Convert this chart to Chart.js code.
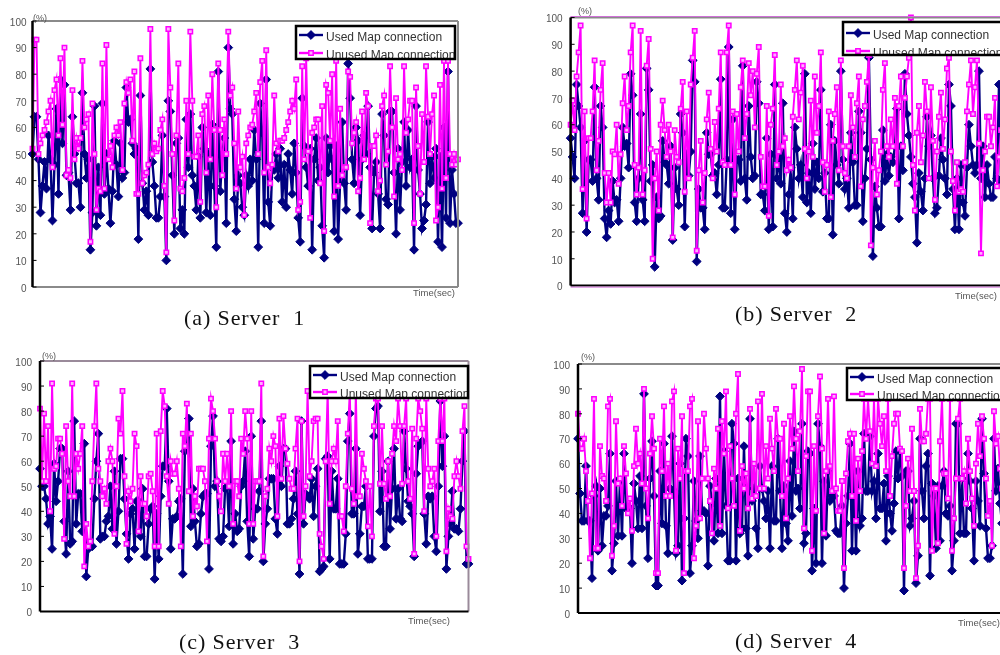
<!DOCTYPE html>
<html>
<head>
<meta charset="utf-8">
<title>Map connection per server</title>
<script src="https://cdn.jsdelivr.net/npm/chart.js@4/dist/chart.umd.js"></script>
<style>
    html, body { margin: 0; padding: 0; background: #fff; width: 1000px; height: 655px; overflow: hidden; }
    canvas { position: absolute; filter: blur(0.3px); }
    .caption { position: absolute; font-family: "Liberation Serif", serif; font-size: 22px; letter-spacing: 0.9px; color: #111; white-space: pre; line-height: 24px; }
</style>
</head>
<body>
<canvas id="server1"></canvas>
<canvas id="server2"></canvas>
<canvas id="server3"></canvas>
<canvas id="server4"></canvas>
<div class="caption" style="left:184px;top:306px">(a) Server  1</div>
<div class="caption" style="left:735px;top:302px">(b) Server  2</div>
<div class="caption" style="left:179px;top:630px">(c) Server  3</div>
<div class="caption" style="left:735px;top:629px">(d) Server  4</div>
<script>
// values, one point every 2px or so
const seriesNames = ['Used Map connection', 'Unused Map connection'];
const yTicks = [0, 10, 20, 30, 40, 50, 60, 70, 80, 90, 100];

const server1Used = [
    50,64,64,48,28,38,47,37,57,48,25,46,67,35,78,54,76,42,43,29,
    64,50,39,39,30,73,50,41,48,14,28,68,23,45,27,69,35,50,37,24,
    36,55,46,34,54,41,43,75,62,63,54,50,52,18,72,39,29,36,27,82,
    47,38,26,26,34,57,34,10,70,66,42,20,54,56,22,29,20,63,45,65,
    42,38,29,49,26,60,52,28,50,27,61,38,15,81,36,50,56,24,90,67,
    65,33,21,42,39,30,27,42,38,
    48,40,59,48,15,69,58,24,78,32,23,45,44,50,41,52,32,46,30,50,
    44,35,54,43,26,17,71,53,45,38,52,14,48,56,40,45,23,11,56,43,
    53,48,21,53,18,40,62,39,29,84,71,48,39,60,55,27,48,57,50,68,
    45,22,43,47,35,22,65,57,33,31,66,66,43,20,52,29,47,62,38,59,
    45,48,14,68,44,35,22,25,31,62,39,49,41,52,17,49,15,60,26,81,
    24,44,35,24,24
];
const server1Unused = [
    52,93,93,50,54,57,59,62,66,70,45,74,78,57,86,61,90,42,44,41,
    74,48,56,52,56,85,60,63,65,17,69,50,29,37,36,84,37,91,48,53,
    45,57,60,57,62,44,69,77,73,78,55,81,35,35,86,39,42,43,46,97,
    50,54,51,52,59,63,38,13,97,75,50,25,57,84,37,36,41,70,50,96,
    70,49,49,57,32,65,68,43,72,48,80,59,30,84,59,42,63,50,96,72,
    75,54,37,66,45,49,27,54,57,
    60,61,66,73,50,77,85,43,89,45,39,46,72,54,51,55,55,56,59,62,
    66,70,67,78,29,32,83,48,86,51,26,58,60,63,63,39,68,21,76,73,
    55,80,34,85,38,67,42,45,45,81,79,54,58,62,36,41,66,48,73,68,
    24,53,53,57,36,40,68,72,46,51,83,60,34,71,48,50,44,83,58,63,
    70,70,24,75,53,35,65,47,83,64,50,65,72,25,30,76,37,85,41,85,
    50,46,50,46,48
];

const server2Used = [
    55,48,40,75,67,59,27,54,20,47,47,39,74,40,32,67,59,25,18,28,
    23,39,31,32,24,40,59,52,53,44,79,71,31,24,40,64,32,24,81,73,
    39,45,7,33,25,26,54,46,45,38,52,17,44,36,30,64,57,22,49,41,
    50,84,76,9,36,29,29,21,57,49,49,41,42,34,45,77,29,29,47,89,
    27,62,21,47,47,39,82,40,32,67,48,40,41,76,68,34,34,28,55,21,
    49,22,75,40,48,38,68,27,20,34,44,25,59,51,40,45,33,79,31,42,
    27,53,36,46,40,73,35,42,25,25,60,19,54,45,38,80,47,36,40,29,
    57,46,30,30,65,57,24,40,51,85,47,11,37,29,22,22,58,39,49,41,
    48,46,52,66,25,52,43,79,64,56,48,38,33,16,42,35,28,40,63,52,
    56,40,27,29,41,55,47,40,34,75,67,36,21,40,21,45,31,26,44,60,
    52,45,42,45,80,40,52,33,45,38,33,33,48,40,75,38
];
const server2Unused = [
    60,69,58,78,87,97,36,65,25,55,55,65,84,43,54,73,83,42,31,42,
    31,50,49,60,38,49,68,78,58,67,87,97,45,34,44,95,34,43,82,92,
    51,10,40,50,28,60,69,58,48,60,50,18,58,48,46,66,76,35,65,40,
    75,85,95,13,43,54,31,42,62,72,51,40,61,50,66,87,46,45,87,97,
    45,65,34,64,50,74,84,55,64,83,71,80,59,79,89,48,37,37,67,26,
    60,66,86,45,50,75,52,55,43,47,44,63,73,84,62,72,82,51,40,50,
    69,48,78,57,67,87,46,35,45,65,33,54,64,74,43,84,52,42,40,52,
    71,59,48,68,78,37,62,67,76,86,15,44,54,34,43,50,73,83,52,48,
    62,52,70,38,67,78,52,70,78,85,100,45,28,57,67,46,56,76,65,40,
    74,54,32,50,63,72,51,62,81,85,50,39,28,46,35,36,35,46,65,75,
    84,64,74,84,53,12,43,50,63,63,52,59,70,37,48,58
];

const server3Used = [
    57,50,50,45,35,38,25,59,44,52,65,65,36,23,56,27,28,76,35,47,
    47,32,67,14,25,26,26,45,60,71,29,30,30,36,38,50,33,56,27,40,
    61,61,45,31,21,39,41,25,44,44,30,49,22,22,35,41,42,13,39,21,
    46,58,58,81,52,25,37,37,38,44,45,15,64,65,77,34,49,36,26,27,
    39,46,47,47,17,66,78,50,52,29,28,30,49,50,34,68,27,39,32,33,
    50,52,64,36,22,
    70,29,41,41,48,76,20,35,41,53,53,53,37,31,58,50,65,65,35,35,
    37,45,56,39,15,76,35,47,46,45,53,38,50,57,16,17,18,61,62,21,
    56,41,41,53,19,19,19,31,68,79,39,39,65,23,31,42,42,50,21,21,
    21,70,81,82,40,56,26,26,60,33,49,65,37,49,37,36,72,57,44,42,
    39,22,55,66,67,68,39,27,46,45,46,30,24,50,84,58,70,17,30,35,
    48,33,33,32,41,60,72,19,19
];
const server3Unused = [
    81,52,79,52,74,40,91,57,58,69,69,63,29,74,52,46,91,46,63,57,
    63,74,18,35,26,28,52,74,91,57,52,46,49,43,60,65,60,31,50,77,
    71,88,54,27,48,44,49,71,66,32,54,43,43,38,54,55,48,26,71,26,
    72,88,82,54,43,60,55,55,60,49,26,71,66,83,48,71,38,46,42,57,
    57,57,52,28,69,85,80,69,52,46,40,63,52,63,50,80,35,52,52,46,
    69,63,80,69,35,
    80,35,52,52,52,91,22,46,49,65,60,70,66,38,77,53,78,65,59,53,
    49,49,65,77,20,76,38,50,88,54,60,76,77,77,31,26,21,60,88,43,
    60,65,60,76,38,38,32,50,71,88,49,43,88,46,46,63,57,52,34,50,
    30,74,85,85,51,74,51,45,60,46,63,74,68,85,74,51,74,85,52,45,
    73,23,69,85,80,73,40,85,57,50,52,57,30,68,85,68,85,24,41,38,
    37,54,60,54,49,72,82,26,21
];

const server4Used = [
    70,48,37,37,59,37,37,14,47,51,25,50,27,39,39,43,64,17,28,53,
    31,53,31,64,42,42,42,20,52,45,34,55,34,88,43,22,54,69,47,11,
    11,57,36,68,35,24,50,71,49,24,27,60,13,38,70,63,16,27,53,37,
    30,63,41,41,40,19,51,44,29,54,32,87,32,65,43,21,21,76,68,21,
    54,32,34,67,34,23,78,45,50,34,26,59,50,45,38,49,
    26,59,37,37,70,49,26,51,36,29,61,39,73,49,50,42,76,28,32,65,
    64,17,42,20,76,67,20,53,31,57,45,47,47,33,32,32,43,10,36,47,
    68,25,57,25,57,35,38,72,49,49,71,49,53,38,64,42,42,52,29,55,
    40,33,44,65,54,65,55,9,57,57,35,38,45,12,23,70,49,38,59,64,
    15,52,47,26,51,29,51,57,40,39,43,17,29,76,76,32,54,32,32,64,
    53,42,21,53,45,35,78,56,34,22,22,27,70,49,58,44,36,60,47
];
const server4Unused = [
    80,66,66,70,57,45,22,48,86,26,26,67,55,54,45,83,86,23,35,77,
    52,54,43,67,56,40,46,33,59,74,60,64,52,90,50,38,64,79,66,16,
    16,70,57,83,47,60,47,85,89,25,66,54,79,16,57,57,83,86,22,35,
    77,38,54,80,66,54,45,32,58,50,74,35,77,64,89,42,67,54,43,80,
    96,33,59,50,56,42,82,46,60,47,85,50,88,50,67,54,
    78,66,57,82,70,70,47,76,38,54,79,66,91,70,57,73,98,34,63,89,
    89,25,67,41,79,95,66,32,57,86,59,49,87,50,41,41,53,18,56,69,
    72,47,72,37,62,49,65,86,70,86,73,60,86,59,86,76,67,79,57,86,
    47,63,76,80,80,66,65,18,43,62,49,74,49,14,27,82,69,69,72,86,
    86,25,50,50,28,69,86,56,56,46,86,25,38,54,78,86,54,57,44,70,
    57,46,35,60,76,63,79,70,54,39,45,27,81,68,71,58,50,62,70
];

const NAVY = '#000080';
const PINK = '#ff00ff';
const LABEL_GREY = '#555';

// frame, legend box and small axis notes for one panel
function panelDecor(cfg) {
    return {
        id: 'panelDecor',
        afterDatasetsDraw(chart) {
            const ctx = chart.ctx;
            const a = chart.chartArea;
            const o = { x: cfg.canvas[0], y: cfg.canvas[1] };
            ctx.save();

            // top and right edges are grey, left and bottom mostly black
            ctx.lineWidth = 2;
            ctx.strokeStyle = cfg.frame.top;
            line(ctx, a.left, a.top, a.right, a.top);
            ctx.strokeStyle = cfg.frame.right;
            line(ctx, a.right, a.top, a.right, a.bottom);
            ctx.strokeStyle = cfg.frame.bottom;
            line(ctx, a.left, a.bottom, a.right, a.bottom);
            ctx.lineWidth = 2.5;
            ctx.strokeStyle = '#000';
            line(ctx, a.left, a.top, a.left, a.bottom);
            if (cfg.frame.pinkEdge) {
                ctx.lineWidth = 1;
                ctx.strokeStyle = '#d070d8';
                line(ctx, a.left, a.top - 1, a.right, a.top - 1);
                line(ctx, a.left, a.bottom + 1.5, a.right, a.bottom + 1.5);
            }

            // tick marks point into the plot
            const yScale = chart.scales.y;
            ctx.lineWidth = 1;
            ctx.strokeStyle = '#000';
            yTicks.forEach(t => {
                const py = yScale.getPixelForValue(t);
                line(ctx, a.left, py, a.left + 4, py);
            });

            // legend, second row runs into the bottom of the box
            const b = cfg.legend;
            const bx = b.x - o.x, by = b.y - o.y;
            ctx.fillStyle = '#fff';
            ctx.fillRect(bx, by, b.w, b.h);
            ctx.save();
            ctx.beginPath();
            ctx.rect(bx, by, b.w, b.h);
            ctx.clip();
            ctx.font = '12px "Liberation Sans", Arial, sans-serif';
            ctx.textBaseline = 'middle';
            ctx.textAlign = 'left';
            chart.data.datasets.forEach((ds, i) => {
                const ly = by + b.rows[i];
                ctx.strokeStyle = ds.borderColor;
                ctx.lineWidth = 2.4;
                line(ctx, bx + 3, ly - 3, bx + 27, ly - 3);
                ctx.fillStyle = ds.pointBackgroundColor;
                ctx.strokeStyle = ds.pointBorderColor;
                ctx.lineWidth = ds.pointBorderWidth;
                Chart.helpers.drawPoint(ctx, {
                    pointStyle: ds.pointStyle,
                    radius: ds.pointRadius,
                    rotation: 0,
                    borderWidth: ds.pointBorderWidth
                }, bx + 15, ly - 3);
                ctx.fillStyle = '#333';
                ctx.fillText(ds.label, bx + 30, ly);
            });
            ctx.restore();
            ctx.strokeStyle = '#000';
            ctx.lineWidth = 2.5;
            ctx.strokeRect(bx, by, b.w, b.h);

            // small axis notes
            ctx.fillStyle = LABEL_GREY;
            ctx.textBaseline = 'middle';
            ctx.textAlign = 'left';
            ctx.font = '9px "Liberation Sans", Arial, sans-serif';
            ctx.fillText('(%)', cfg.percent[0] - o.x, cfg.percent[1] - o.y);
            ctx.font = '9.5px "Liberation Sans", Arial, sans-serif';
            ctx.fillText('Time(sec)', cfg.time[0] - o.x, cfg.time[1] - o.y);
            ctx.restore();
        }
    };
}

function line(ctx, x1, y1, x2, y2) {
    ctx.beginPath();
    ctx.moveTo(x1, y1);
    ctx.lineTo(x2, y2);
    ctx.stroke();
}

function makePanel(cfg) {
    const canvas = document.getElementById(cfg.id);
    const [cx, cy, cw, ch] = cfg.canvas;
    canvas.width = cw;
    canvas.height = ch;
    canvas.style.left = cx + 'px';
    canvas.style.top = cy + 'px';
    const yWidth = 24;
    const labels = cfg.used.map((v, i) => i);

    new Chart(canvas, {
        type: 'line',
        data: {
            labels: labels,
            datasets: [
                {
                    label: seriesNames[0],
                    data: cfg.used,
                    borderColor: NAVY,
                    borderWidth: 2.4,
                    pointStyle: 'rectRot',
                    pointRadius: 4.4,
                    pointBackgroundColor: NAVY,
                    pointBorderColor: NAVY,
                    pointBorderWidth: 1,
                    tension: 0,
                    clip: false,
                    order: 2
                },
                {
                    label: seriesNames[1],
                    data: cfg.unused,
                    borderColor: PINK,
                    borderWidth: 1.9,
                    pointStyle: 'rect',
                    pointRadius: 3.1,
                    pointBackgroundColor: '#ffb0ff',
                    pointBorderColor: PINK,
                    pointBorderWidth: 1.5,
                    tension: 0,
                    clip: false,
                    order: 1
                }
            ]
        },
        options: {
            responsive: false,
            animation: false,
            events: [],
            layout: {
                padding: {
                    left: cfg.plot.left - cx - yWidth,
                    top: cfg.plot.top - cy,
                    right: cx + cw - cfg.plot.right,
                    bottom: cy + ch - cfg.plot.bottom
                }
            },
            plugins: { legend: { display: false }, tooltip: { enabled: false } },
            scales: {
                x: { display: false },
                y: {
                    min: 0,
                    max: 100,
                    afterFit(scale) { scale.width = yWidth; },
                    afterBuildTicks(scale) { scale.ticks = yTicks.map(v => ({ value: v })); },
                    border: { display: false },
                    grid: { display: false, drawTicks: false },
                    ticks: {
                        autoSkip: false,
                        padding: cfg.tickGap,
                        labelOffset: 2,
                        color: LABEL_GREY,
                        font: { family: '"Liberation Sans", Arial, sans-serif', size: 10 }
                    }
                }
            }
        },
        plugins: [panelDecor(cfg)]
    });
}

makePanel({
    id: 'server1',
    used: server1Used,
    unused: server1Unused,
    canvas: [0, 0, 480, 310],
    plot: { left: 32.5, top: 21, right: 458, bottom: 287 },
    tickGap: 6,
    frame: { top: '#8a8a8a', right: '#8a8a8a', bottom: '#8a8a8a' },
    legend: { x: 296, y: 26, w: 159, h: 33, rows: [12, 30] },
    percent: [33, 19],
    time: [413, 293]
});

makePanel({
    id: 'server2',
    used: server2Used,
    unused: server2Unused,
    canvas: [530, 0, 480, 310],
    plot: { left: 570.6, top: 17.5, right: 1001, bottom: 285.6 },
    tickGap: 8,
    frame: { top: '#8a8a8a', right: '#8a8a8a', bottom: '#000', pinkEdge: true },
    legend: { x: 843, y: 22, w: 170, h: 33, rows: [14, 32] },
    percent: [578, 12],
    time: [955, 296]
});

makePanel({
    id: 'server3',
    used: server3Used,
    unused: server3Unused,
    canvas: [0, 340, 480, 290],
    plot: { left: 40, top: 361, right: 468.5, bottom: 611.5 },
    tickGap: 8,
    frame: { top: '#9a8a9a', right: '#9a8a9a', bottom: '#000' },
    legend: { x: 310, y: 366, w: 158, h: 32, rows: [12, 29] },
    percent: [42, 357],
    time: [408, 621]
});

makePanel({
    id: 'server4',
    used: server4Used,
    unused: server4Unused,
    canvas: [530, 340, 490, 290],
    plot: { left: 578, top: 364, right: 1006, bottom: 613 },
    tickGap: 8,
    frame: { top: '#8a8a8a', right: '#8a8a8a', bottom: '#000' },
    legend: { x: 847, y: 368, w: 170, h: 32, rows: [12, 29] },
    percent: [581, 358],
    time: [958, 623]
});
</script>
</body>
</html>
